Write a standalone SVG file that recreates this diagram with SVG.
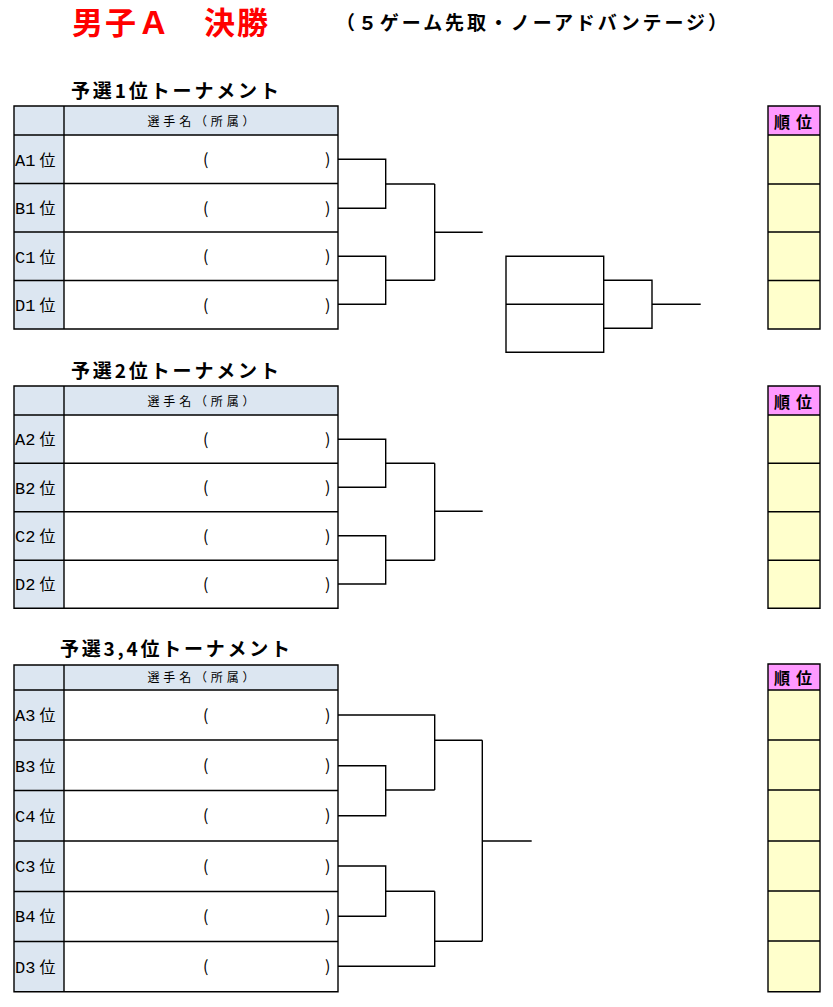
<svg xmlns="http://www.w3.org/2000/svg" width="833" height="1007" viewBox="0 0 833 1007">
<style>
.jp{font-family:"Noto Sans CJK JP","Noto Sans",sans-serif;fill:#000}
.title{font-size:31px;font-weight:bold;fill:#FF0000}
.sub{font-size:19px;font-weight:bold}
.sec{font-size:19px;font-weight:bold}
.hdr{font-size:12px}
.lbl{font-size:16px}
.lat{font-family:"Liberation Mono","DejaVu Sans Mono",monospace;font-size:17px}
.par{font-size:16px}
.rk{font-size:16px;font-weight:bold}
.hd{fill:#DCE6F1}
.nm{fill:#FFFFFF}
.rh{fill:#FF99FF}
.ry{fill:#FFFFCC}
.ln{stroke:#000;stroke-width:1.4;fill:none}
</style>

<g id="title">
<text class="jp title" x="72" y="34" textLength="196" lengthAdjust="spacing">男子Ａ　決勝</text>
<text class="jp sub" x="336" y="30" textLength="391" lengthAdjust="spacing">（５ゲーム先取・ノーアドバンテージ）</text>
</g>

<!-- Section 1 -->
<g id="sec1-table">
<text class="jp sec" x="71" y="97.5" textLength="208" lengthAdjust="spacing">予選1位トーナメント</text>
<rect class="hd" x="14" y="106" width="324" height="29"/>
<rect class="hd" x="14" y="135" width="50" height="194"/>
<rect class="nm" x="64" y="135" width="274" height="194"/>
<path class="ln" d="M14,106H338V329H14Z M64,106V329 M14,135H338 M14,183.5H338 M14,232H338 M14,280.5H338"/>
<text class="jp hdr" x="201" y="126" text-anchor="middle" textLength="107" lengthAdjust="spacing">選手名（所属）</text>
</g>
<g id="sec1-A1"><text class="jp lbl" y="165.5"><tspan class="lat" x="15">A1</tspan><tspan x="39.5">位</tspan></text><text class="jp par" y="165"><tspan x="203">(</tspan><tspan x="325">)</tspan></text></g>
<g id="sec1-B1"><text class="jp lbl" y="214"><tspan class="lat" x="15">B1</tspan><tspan x="39.5">位</tspan></text><text class="jp par" y="213.5"><tspan x="203">(</tspan><tspan x="325">)</tspan></text></g>
<g id="sec1-C1"><text class="jp lbl" y="262.5"><tspan class="lat" x="15">C1</tspan><tspan x="39.5">位</tspan></text><text class="jp par" y="262"><tspan x="203">(</tspan><tspan x="325">)</tspan></text></g>
<g id="sec1-D1"><text class="jp lbl" y="311"><tspan class="lat" x="15">D1</tspan><tspan x="39.5">位</tspan></text><text class="jp par" y="310.5"><tspan x="203">(</tspan><tspan x="325">)</tspan></text></g>
<g id="sec1-rank">
<rect class="rh" x="768" y="106" width="52" height="29"/>
<rect class="ry" x="768" y="135" width="52" height="194"/>
<path class="ln" d="M768,106H820V329H768Z M768,135H820 M768,184H820 M768,232H820 M768,280.5H820"/>
<text class="jp rk" x="793" y="127.5" text-anchor="middle" textLength="38" lengthAdjust="spacing">順位</text>
</g>
<g id="final-box">
<path class="ln" d="M506,256.3H603.7V352.3H506Z M506,304.3H603.7"/>
</g>

<!-- Section 2 -->
<g id="sec2-table">
<text class="jp sec" x="71" y="377.5" textLength="208" lengthAdjust="spacing">予選2位トーナメント</text>
<rect class="hd" x="14" y="386" width="324" height="29"/>
<rect class="hd" x="14" y="415" width="50" height="193.3"/>
<rect class="nm" x="64" y="415" width="274" height="193.3"/>
<path class="ln" d="M14,386H338V608.3H14Z M64,386V608.3 M14,415H338 M14,463.3H338 M14,511.7H338 M14,560.3H338"/>
<text class="jp hdr" x="201" y="406" text-anchor="middle" textLength="107" lengthAdjust="spacing">選手名（所属）</text>
</g>
<g id="sec2-A2"><text class="jp lbl" y="445"><tspan class="lat" x="15">A2</tspan><tspan x="39.5">位</tspan></text><text class="jp par" y="444.5"><tspan x="203">(</tspan><tspan x="325">)</tspan></text></g>
<g id="sec2-B2"><text class="jp lbl" y="493.5"><tspan class="lat" x="15">B2</tspan><tspan x="39.5">位</tspan></text><text class="jp par" y="493"><tspan x="203">(</tspan><tspan x="325">)</tspan></text></g>
<g id="sec2-C2"><text class="jp lbl" y="542"><tspan class="lat" x="15">C2</tspan><tspan x="39.5">位</tspan></text><text class="jp par" y="541.5"><tspan x="203">(</tspan><tspan x="325">)</tspan></text></g>
<g id="sec2-D2"><text class="jp lbl" y="590.3"><tspan class="lat" x="15">D2</tspan><tspan x="39.5">位</tspan></text><text class="jp par" y="589.8"><tspan x="203">(</tspan><tspan x="325">)</tspan></text></g>
<g id="sec2-rank">
<rect class="rh" x="768" y="386" width="52" height="29"/>
<rect class="ry" x="768" y="415" width="52" height="193.3"/>
<path class="ln" d="M768,386H820V608.3H768Z M768,415H820 M768,463.3H820 M768,511.7H820 M768,560.3H820"/>
<text class="jp rk" x="793" y="407.5" text-anchor="middle" textLength="38" lengthAdjust="spacing">順位</text>
</g>

<!-- Section 3 -->
<g id="sec3-table">
<text class="jp sec" x="60" y="656" textLength="230" lengthAdjust="spacing">予選3,4位トーナメント</text>
<rect class="hd" x="14" y="665" width="324" height="25"/>
<rect class="hd" x="14" y="690" width="50" height="301.7"/>
<rect class="nm" x="64" y="690" width="274" height="301.7"/>
<path class="ln" d="M14,665H338V991.7H14Z M64,665V991.7 M14,690H338 M14,740H338 M14,790.5H338 M14,841H338 M14,891.5H338 M14,941.5H338"/>
<text class="jp hdr" x="201" y="682" text-anchor="middle" textLength="107" lengthAdjust="spacing">選手名（所属）</text>
</g>
<g id="sec3-A3"><text class="jp lbl" y="721"><tspan class="lat" x="15">A3</tspan><tspan x="39.5">位</tspan></text><text class="jp par" y="720.5"><tspan x="203">(</tspan><tspan x="325">)</tspan></text></g>
<g id="sec3-B3"><text class="jp lbl" y="771.5"><tspan class="lat" x="15">B3</tspan><tspan x="39.5">位</tspan></text><text class="jp par" y="771"><tspan x="203">(</tspan><tspan x="325">)</tspan></text></g>
<g id="sec3-C4"><text class="jp lbl" y="821.8"><tspan class="lat" x="15">C4</tspan><tspan x="39.5">位</tspan></text><text class="jp par" y="821.3"><tspan x="203">(</tspan><tspan x="325">)</tspan></text></g>
<g id="sec3-C3"><text class="jp lbl" y="872"><tspan class="lat" x="15">C3</tspan><tspan x="39.5">位</tspan></text><text class="jp par" y="871.5"><tspan x="203">(</tspan><tspan x="325">)</tspan></text></g>
<g id="sec3-B4"><text class="jp lbl" y="922.3"><tspan class="lat" x="15">B4</tspan><tspan x="39.5">位</tspan></text><text class="jp par" y="921.8"><tspan x="203">(</tspan><tspan x="325">)</tspan></text></g>
<g id="sec3-D3"><text class="jp lbl" y="972.5"><tspan class="lat" x="15">D3</tspan><tspan x="39.5">位</tspan></text><text class="jp par" y="972"><tspan x="203">(</tspan><tspan x="325">)</tspan></text></g>
<g id="sec3-rank">
<rect class="rh" x="768" y="664" width="52" height="26"/>
<rect class="ry" x="768" y="690" width="52" height="301.7"/>
<path class="ln" d="M768,664H820V991.7H768Z M768,690H820 M768,740H820 M768,790H820 M768,841H820 M768,891H820 M768,941H820"/>
<text class="jp rk" x="793" y="684" text-anchor="middle" textLength="38" lengthAdjust="spacing">順位</text>
</g>

<g id="connectors" class="ln">
<!-- section 1 -->
<path class="ln" d="M338,159.3H385.7V208.3H338 M385.7,184H434.7 M338,256.3H385.7V304.3H338 M385.7,280.3H434.7 M434.7,184V280.3 M434.7,232.3H482.7"/>
<path class="ln" d="M603.7,280.3H652V328.3H603.7 M652,304.3H700.7"/>
<!-- section 2 -->
<path class="ln" d="M338,439.3H385.7V487.3H338 M385.7,463.3H434.7 M338,535.7H385.7V584H338 M385.7,560.3H434.7 M434.7,463.3V560.3 M434.7,511.3H482.7"/>
<!-- section 3 -->
<path class="ln" d="M338,715H434.7V790 M338,765.7H385.7V815.7H338 M385.7,790H434.7 M434.7,740.3H482.3 M338,866H385.7V916.3H338 M385.7,891.3H434.7 M338,966.3H434.7V891.3 M434.7,941.3H482.3 M482.3,740.3V941.3 M482.3,841H531.7"/>
</g>
</svg>
